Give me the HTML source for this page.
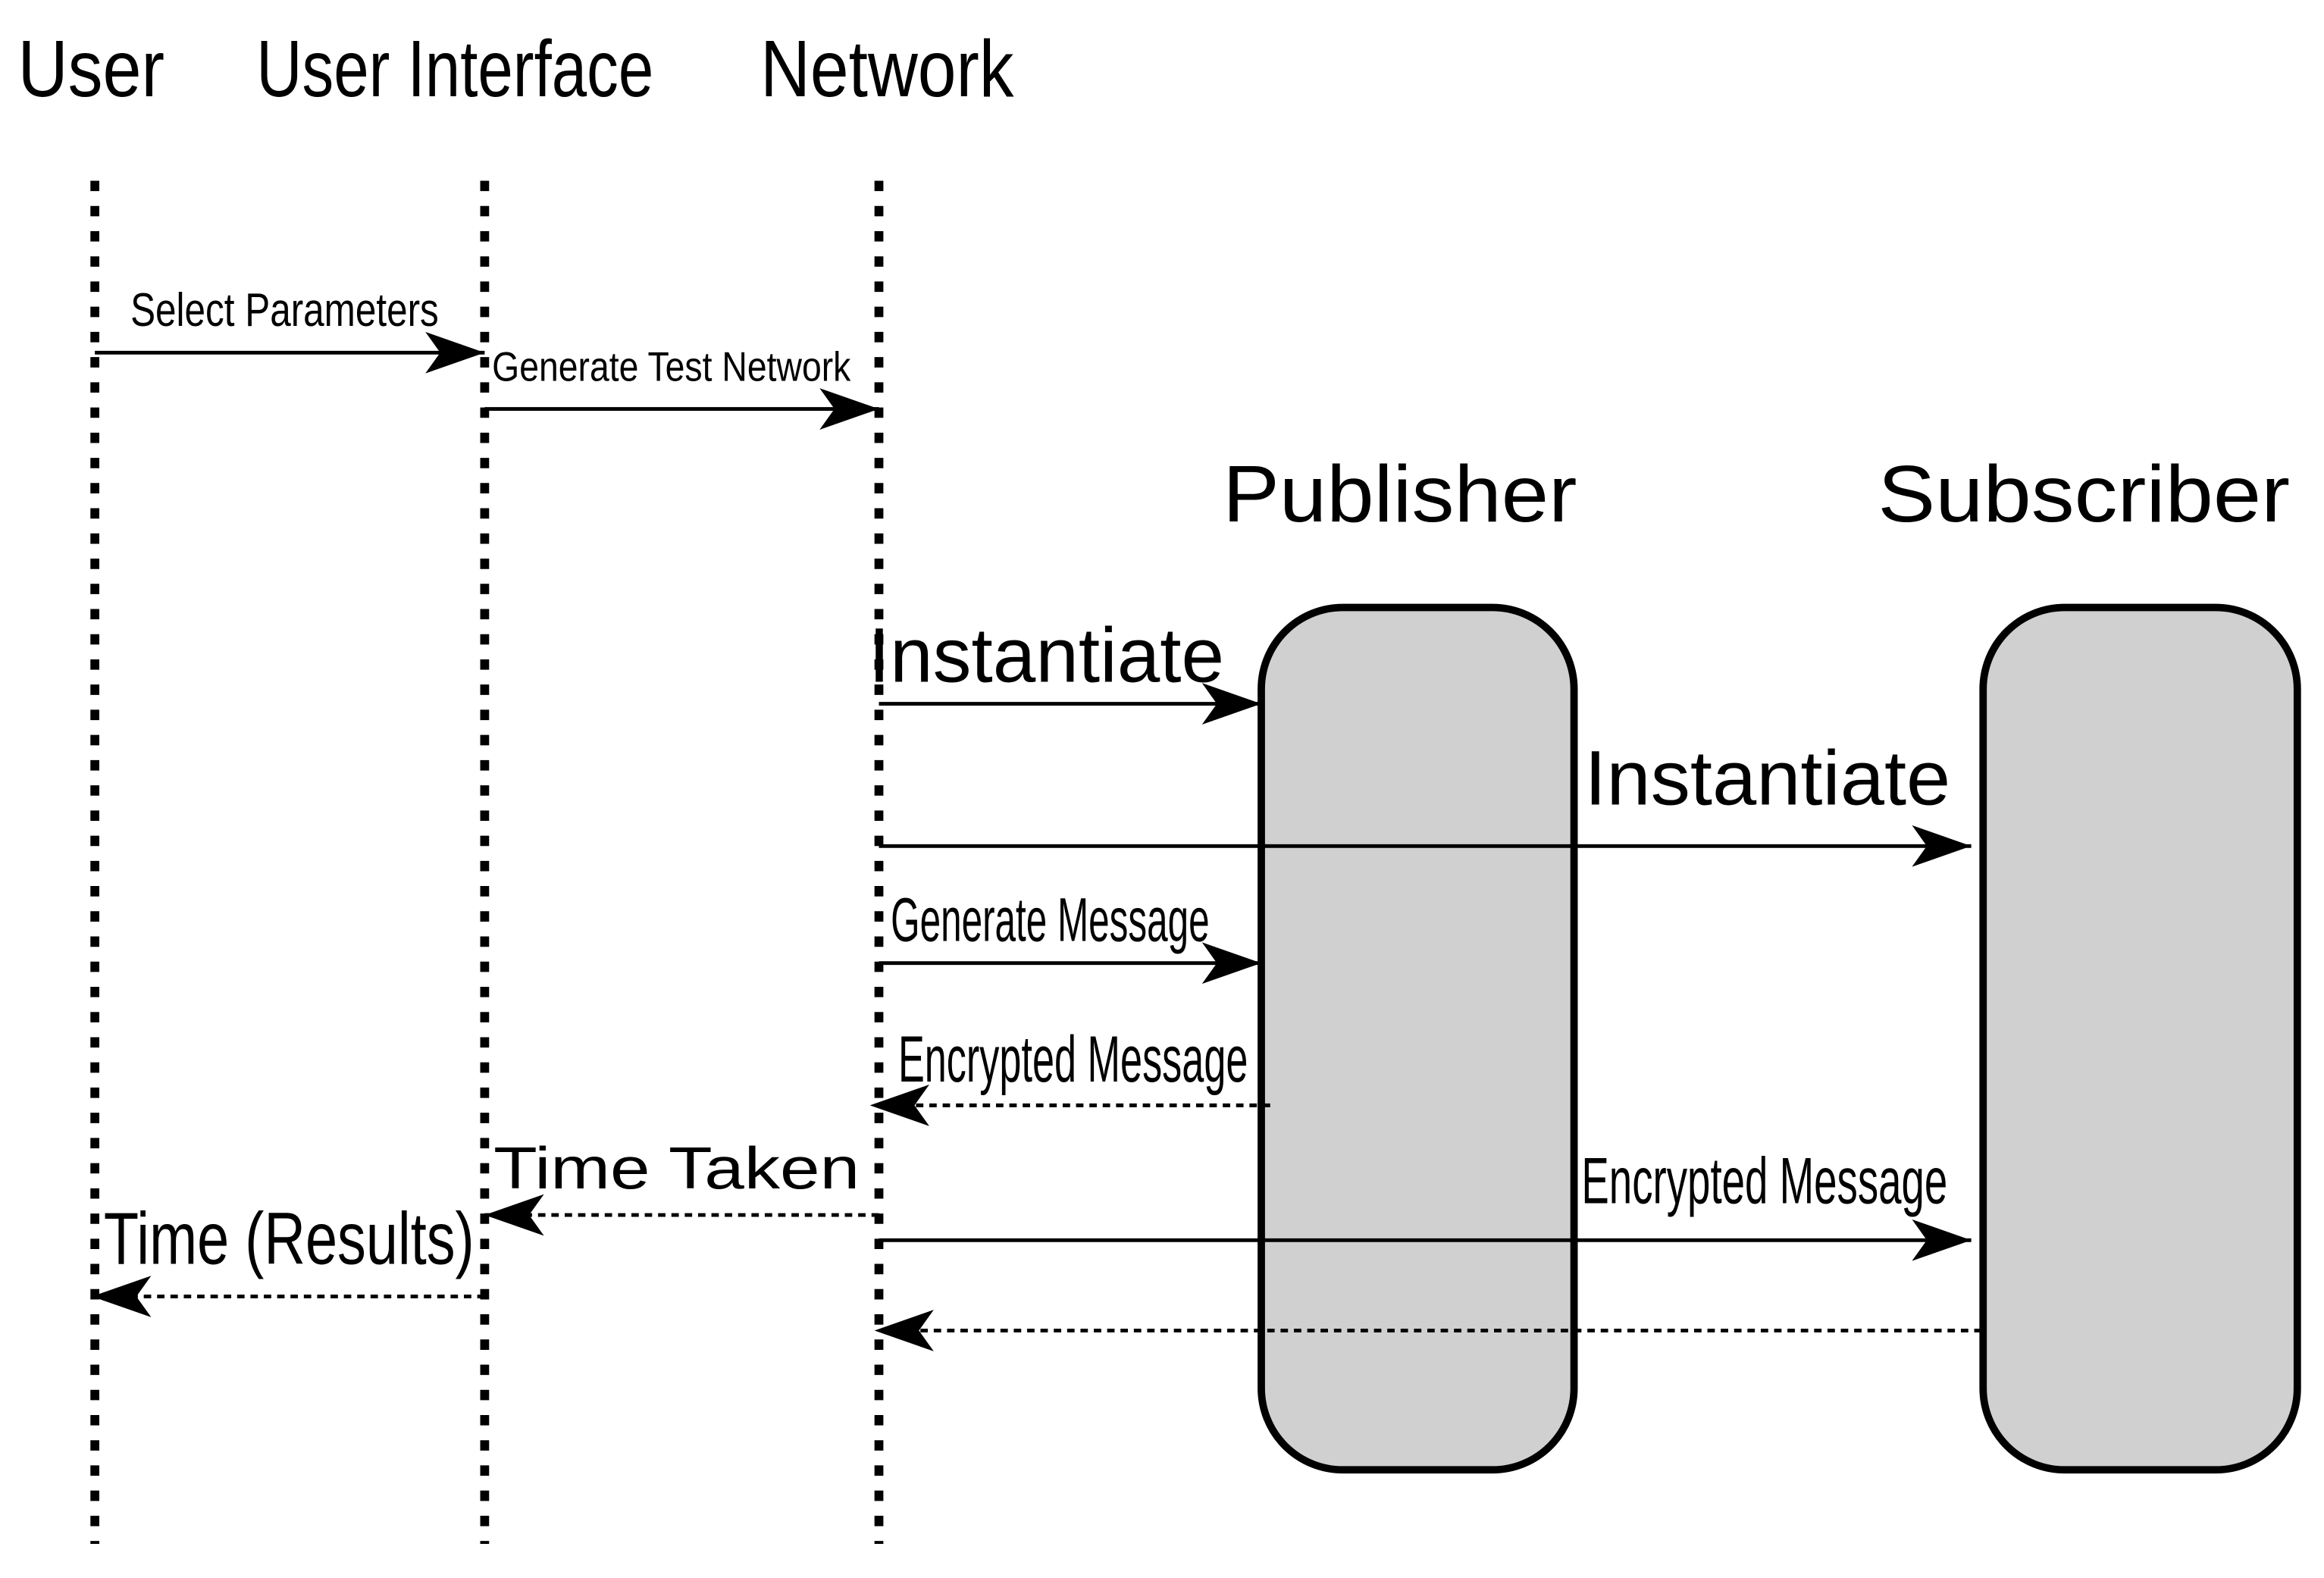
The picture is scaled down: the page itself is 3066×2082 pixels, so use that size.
<!DOCTYPE html>
<html><head><meta charset="utf-8"><style>
html,body{margin:0;padding:0;background:#fff;}
svg{display:block;}
text{font-family:"Liberation Sans",sans-serif;fill:#000;}
</style></head><body>
<svg width="3066" height="2082" viewBox="0 0 1568 1065" preserveAspectRatio="none" xmlns="http://www.w3.org/2000/svg">
<defs>
<marker id="ah" viewBox="0 0 40 28" refX="40" refY="14" markerWidth="40" markerHeight="28" markerUnits="userSpaceOnUse" orient="auto">
<path d="M0,0 L40,14 L0,28 L10,14 Z" fill="#000"/>
</marker>
</defs>
<rect width="1568" height="1065" fill="#fff"/>
<!-- titles -->
<text x="12" y="65" font-size="54" textLength="99" lengthAdjust="spacingAndGlyphs">User</text>
<text x="173" y="65" font-size="54" textLength="268" lengthAdjust="spacingAndGlyphs">User Interface</text>
<text x="513" y="65" font-size="54" textLength="171" lengthAdjust="spacingAndGlyphs">Network</text>
<text x="825" y="352" font-size="54" textLength="239" lengthAdjust="spacingAndGlyphs">Publisher</text>
<text x="1267" y="352" font-size="54" textLength="278" lengthAdjust="spacingAndGlyphs">Subscriber</text>
<!-- lifelines -->
<g stroke="#000" stroke-width="6" stroke-dasharray="7 10">
<line x1="64" y1="122" x2="64" y2="1042"/>
<line x1="327" y1="122" x2="327" y2="1042"/>
<line x1="593" y1="122" x2="593" y2="1042"/>
</g>
<!-- boxes -->
<rect x="851" y="410" width="211" height="582" rx="55" fill="#d0d0d0" stroke="#000" stroke-width="5"/>
<rect x="1338" y="410" width="212" height="582" rx="55" fill="#d0d0d0" stroke="#000" stroke-width="5"/>
<!-- arrows -->
<g stroke="#000" stroke-width="2.5" fill="none">
<line x1="64" y1="238" x2="327" y2="238" marker-end="url(#ah)"/>
<line x1="327" y1="276" x2="593" y2="276" marker-end="url(#ah)"/>
<line x1="593" y1="475" x2="851" y2="475" marker-end="url(#ah)"/>
<line x1="593" y1="571" x2="1330" y2="571" marker-end="url(#ah)"/>
<line x1="593" y1="650" x2="851" y2="650" marker-end="url(#ah)"/>
<line x1="593" y1="837" x2="1330" y2="837" marker-end="url(#ah)"/>
<g stroke-dasharray="5 4">
<line x1="857" y1="746" x2="587" y2="746" marker-end="url(#ah)"/>
<line x1="593" y1="820" x2="327" y2="820" marker-end="url(#ah)"/>
<line x1="327" y1="875" x2="62" y2="875" marker-end="url(#ah)"/>
<line x1="1337" y1="898" x2="590" y2="898" marker-end="url(#ah)"/>
</g>
</g>
<!-- labels -->
<text x="88" y="220" font-size="32" textLength="208" lengthAdjust="spacingAndGlyphs">Select Parameters</text>
<text x="332" y="257" font-size="28" textLength="242" lengthAdjust="spacingAndGlyphs">Generate Test Network</text>
<text x="586" y="460" font-size="52" textLength="240" lengthAdjust="spacingAndGlyphs">Instantiate</text>
<text x="1069" y="543" font-size="52" textLength="247" lengthAdjust="spacingAndGlyphs">Instantiate</text>
<text x="601" y="635" font-size="42" textLength="215" lengthAdjust="spacingAndGlyphs">Generate Message</text>
<text x="606" y="730" font-size="44" textLength="236" lengthAdjust="spacingAndGlyphs">Encrypted Message</text>
<text x="333" y="802" font-size="40" textLength="247" lengthAdjust="spacingAndGlyphs">Time Taken</text>
<text x="70" y="853" font-size="50" textLength="250" lengthAdjust="spacingAndGlyphs">Time (Results)</text>
<text x="1067" y="812" font-size="44" textLength="247" lengthAdjust="spacingAndGlyphs">Encrypted Message</text>
</svg>
</body></html>
